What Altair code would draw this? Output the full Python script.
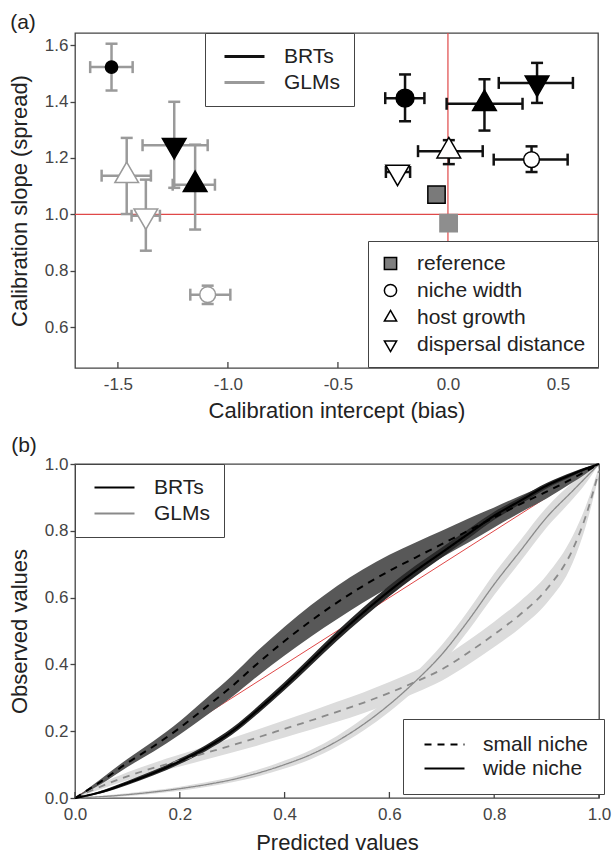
import altair as alt
import pandas as pd

FONT = "Liberation Sans"
RED = "#e04848"
AXC = "#444444"

# ---------------- (a) calibration statistics ----------------
models = ["BRTs", "GLMs"]
a_factors = ["reference", "niche width", "host growth", "dispersal distance"]
a_model = ["GLMs", "GLMs", "GLMs", "GLMs", "GLMs", "GLMs", "GLMs",
           "BRTs", "BRTs", "BRTs", "BRTs", "BRTs", "BRTs", "BRTs"]
a_factor = ["niche width", "dispersal distance", "host growth", "host growth",
            "dispersal distance", "niche width", "reference",
            "niche width", "host growth", "dispersal distance", "host growth",
            "niche width", "dispersal distance", "reference"]
a_level = ["filled", "filled", "filled", "open", "open", "open", "reference",
           "filled", "filled", "filled", "open", "open", "open", "reference"]
a_x = [-1.529, -1.244, -1.149, -1.460, -1.373, -1.092, 0.003,
       -0.195, 0.166, 0.405, 0.004, 0.380, -0.229, -0.052]
a_y = [1.522, 1.245, 1.105, 1.137, 0.995, 0.715, 0.969,
       1.412, 1.392, 1.466, 1.224, 1.194, 1.150, 1.070]
a_xlo = [-1.626, -1.388, -1.251, -1.574, -1.438, -1.171, None,
         -0.285, -0.006, 0.231, -0.136, 0.208, -0.282, None]
a_xhi = [-1.433, -1.092, -1.059, -1.350, -1.309, -0.989, None,
         -0.107, 0.339, 0.568, 0.158, 0.544, -0.172, None]
a_ylo = [1.439, 1.094, 0.946, 1.001, 0.871, 0.682, None,
         1.330, 1.297, 1.395, 1.178, 1.150, None, None]
a_yhi = [1.605, 1.399, 1.247, 1.271, 1.123, 0.747, None,
         1.496, 1.479, 1.537, 1.263, 1.241, None, None]
a_xticks = [-1.5, -1.0, -0.5, 0.0, 0.5]
a_yticks = [0.6, 0.8, 1.0, 1.2, 1.4, 1.6]
a_xdomain = [-1.695, 0.682]
a_ydomain = [0.455, 1.643]

# ---------------- (b) calibration curves ----------------
niches = ["small niche", "wide niche"]
b_x = [0.0, 0.05, 0.1, 0.15, 0.2, 0.25, 0.3, 0.35, 0.4, 0.45, 0.5,
       0.55, 0.6, 0.65, 0.7, 0.75, 0.8, 0.85, 0.9, 0.95, 0.975, 1.0]
brt_small = [0.000, 0.050, 0.105, 0.155, 0.210, 0.272, 0.335, 0.405, 0.470, 0.530, 0.585,
             0.635, 0.680, 0.720, 0.760, 0.800, 0.840, 0.880, 0.917, 0.957, 0.978, 1.000]
brt_small_hw = [0.000, 0.008, 0.012, 0.016, 0.020, 0.026, 0.032, 0.038, 0.043, 0.047, 0.050,
                0.050, 0.048, 0.045, 0.040, 0.036, 0.030, 0.025, 0.020, 0.012, 0.007, 0.000]
brt_wide = [0.000, 0.018, 0.045, 0.075, 0.110, 0.150, 0.200, 0.265, 0.335, 0.410, 0.485,
            0.555, 0.620, 0.680, 0.735, 0.790, 0.845, 0.890, 0.935, 0.970, 0.986, 1.000]
brt_wide_hw = [0.000, 0.004, 0.006, 0.007, 0.008, 0.009, 0.010, 0.011, 0.012, 0.013, 0.014,
               0.015, 0.016, 0.016, 0.015, 0.014, 0.012, 0.010, 0.008, 0.006, 0.004, 0.000]
glm_small = [0.000, 0.035, 0.065, 0.090, 0.112, 0.135, 0.158, 0.182, 0.207, 0.232, 0.258,
             0.285, 0.315, 0.348, 0.385, 0.435, 0.490, 0.550, 0.625, 0.745, 0.845, 0.980]
glm_small_hw = [0.000, 0.008, 0.012, 0.015, 0.018, 0.020, 0.022, 0.024, 0.026, 0.028, 0.030,
                0.031, 0.032, 0.033, 0.034, 0.036, 0.038, 0.040, 0.042, 0.040, 0.030, 0.012]
glm_wide = [0.000, 0.004, 0.010, 0.018, 0.028, 0.040, 0.055, 0.075, 0.100, 0.130, 0.170,
            0.220, 0.280, 0.350, 0.430, 0.530, 0.640, 0.740, 0.840, 0.920, 0.960, 1.000]
glm_wide_hw = [0.000, 0.003, 0.004, 0.005, 0.006, 0.007, 0.008, 0.010, 0.012, 0.014, 0.016,
               0.019, 0.022, 0.025, 0.028, 0.030, 0.032, 0.032, 0.030, 0.025, 0.018, 0.000]
b_ticks = [0.0, 0.2, 0.4, 0.6, 0.8, 1.0]

# ---------------- layout / style constants ----------------
W_A, H_A = 523, 335
W_B, H_B = 524, 334
TRI_UP = "M0,-1.155L1,0.577L-1,0.577Z"
TRI_DOWN = "M0,1.155L1,-0.577L-1,-0.577Z"
LINE_SYM = "M-1,0H9"
HYPHEN = "replace(datum.label, '\u2212', '-')"

# ---------------- tables ----------------
df_a = pd.DataFrame({"model": a_model, "factor": a_factor, "level": a_level,
                     "x": a_x, "y": a_y, "xlo": a_xlo, "xhi": a_xhi,
                     "ylo": a_ylo, "yhi": a_yhi})


def fill_of(m, lv):
    if lv == "filled":
        return "#000000"
    if lv == "open":
        return "#ffffff"
    return "#7a7a7a" if m == "BRTs" else "#8e8e8e"


def stroke_of(m, lv):
    if m == "BRTs" or lv == "filled":
        return "#000000"
    if lv == "open":
        return "#9a9a9a"
    return "#8e8e8e"


def size_of(m, f, lv):
    if f in ("host growth", "dispersal distance"):
        return 560
    if f == "reference":
        return 300
    if lv == "filled":
        return 320 if m == "BRTs" else 150
    return 250


df_a["fillc"] = [fill_of(m, lv) for m, lv in zip(a_model, a_level)]
df_a["strokec"] = [stroke_of(m, lv) for m, lv in zip(a_model, a_level)]
df_a["sz"] = [size_of(m, f, lv) for m, f, lv in zip(a_model, a_factor, a_level)]

ex = df_a.dropna(subset=["xlo"])
ey = df_a.dropna(subset=["ylo"])
capx = pd.concat([ex[["model", "y"]].assign(cx=ex["xlo"]),
                  ex[["model", "y"]].assign(cx=ex["xhi"])])
capy = pd.concat([ey[["model", "x"]].assign(cy=ey["ylo"]),
                  ey[["model", "x"]].assign(cy=ey["yhi"])])

series_defs = [
    ("BRT small", "BRTs", "small niche", brt_small, brt_small_hw),
    ("BRT wide", "BRTs", "wide niche", brt_wide, brt_wide_hw),
    ("GLM small", "GLMs", "small niche", glm_small, glm_small_hw),
    ("GLM wide", "GLMs", "wide niche", glm_wide, glm_wide_hw),
]
rows = []
for name, mdl, nch, vals, hws in series_defs:
    for px, py, hw in zip(b_x, vals, hws):
        rows.append({"series": name, "model": mdl, "niche": nch,
                     "px": px, "py": py, "lo": py - hw, "hi": py + hw})
df_b = pd.DataFrame(rows)

# ---------------- panel (a) ----------------
xs_a = alt.Scale(domain=a_xdomain, zero=False, nice=False)
ys_a = alt.Scale(domain=a_ydomain, zero=False, nice=False)
ax_xa = alt.Axis(values=a_xticks, format=".1f", labelExpr=HYPHEN, ticks=False, tickSize=0,
                 labelPadding=8, labelFlush=False, title="Calibration intercept (bias)",
                 titleY=42, titleBaseline="middle")
ax_ya = alt.Axis(values=a_yticks, format=".1f", tickSize=5, labelPadding=2,
                 title="Calibration slope (spread)", titleX=-56, titleY=H_A / 2,
                 titleAngle=270, titleBaseline="middle", titleAlign="center")


def XA(f):
    return alt.X(f, scale=xs_a, axis=ax_xa)


def YA(f):
    return alt.Y(f, scale=ys_a, axis=ax_ya)


leg_model_a = alt.Legend(title=None, orient="none", legendX=130, legendY=0, padding=13,
                         symbolType=LINE_SYM, symbolSize=64, symbolStrokeWidth=3,
                         labelOffset=45, rowPadding=4)
leg_shape = alt.Legend(title=None, orient="none", legendX=293, legendY=208, padding=12,
                       symbolSize=150, symbolStrokeWidth=1.5, symbolStrokeColor="#000000",
                       symbolFillColor={"expr": "datum.value === 'reference' ? '#7f7f7f' : '#ffffff'"},
                       labelOffset=16, rowPadding=5)
col_a = alt.Color("model:N", scale=alt.Scale(domain=models, range=["#111111", "#9a9a9a"]),
                  legend=leg_model_a)

red_v = alt.Chart(pd.DataFrame({"v": [0.0]})).mark_rule(color=RED, strokeWidth=1.2).encode(
    x=XA("v:Q"))
red_h = alt.Chart(pd.DataFrame({"v": [1.0]})).mark_rule(color=RED, strokeWidth=1.2).encode(
    y=YA("v:Q"))
xbars = alt.Chart(ex).mark_rule(strokeWidth=2.5).encode(
    x=XA("xlo:Q"), x2="xhi:Q", y=YA("y:Q"), color=col_a)
ybars = alt.Chart(ey).mark_rule(strokeWidth=2.5).encode(
    x=XA("x:Q"), y=YA("ylo:Q"), y2="yhi:Q", color=col_a)
xcaps = alt.Chart(capx).mark_tick(orient="vertical", size=12, thickness=2.5, opacity=1).encode(
    x=XA("cx:Q"), y=YA("y:Q"), color=col_a)
ycaps = alt.Chart(capy).mark_tick(orient="horizontal", size=12, thickness=2.5, opacity=1).encode(
    x=XA("x:Q"), y=YA("cy:Q"), color=col_a)
markers = alt.Chart(df_a).mark_point(filled=True, opacity=1, strokeWidth=1.5).encode(
    x=XA("x:Q"), y=YA("y:Q"),
    shape=alt.Shape("factor:N", scale=alt.Scale(domain=a_factors,
                    range=["square", "circle", TRI_UP, TRI_DOWN]), legend=leg_shape),
    fill=alt.Fill("fillc:N", scale=None),
    stroke=alt.Stroke("strokec:N", scale=None),
    size=alt.Size("sz:Q", scale=None))
ticks_a = alt.Chart(pd.DataFrame({"t": a_xticks})).mark_rule(color=AXC, strokeWidth=1.3).encode(
    x=XA("t:Q"), y=alt.value(H_A), y2=alt.value(H_A - 6))
lab_a = alt.Chart(pd.DataFrame({"t": ["(a)"]})).mark_text(
    fontSize=21, color="#222222", font=FONT).encode(
    text="t:N", x=alt.value(-52), y=alt.value(-10))
anchor = alt.Chart(pd.DataFrame({"t": [0]})).mark_rule(strokeOpacity=0, strokeWidth=0.01).encode(
    x=alt.value(-74), x2=alt.value(-73), y=alt.value(-32), y2=alt.value(-32))

top = alt.layer(red_v, red_h, xbars, ybars, xcaps, ycaps, markers, ticks_a, lab_a, anchor
                ).properties(width=W_A, height=H_A)

# ---------------- panel (b) ----------------
xs_b = alt.Scale(domain=[0, 1], zero=False, nice=False)
ys_b = alt.Scale(domain=[0, 1], zero=False, nice=False)
ax_xb = alt.Axis(values=b_ticks, format=".1f", ticks=False, tickSize=0, labelPadding=8,
                 labelFlush=False, title="Predicted values", titleY=44,
                 titleBaseline="middle")
ax_yb = alt.Axis(values=b_ticks, format=".1f", tickSize=5, labelPadding=2,
                 title="Observed values", titleX=-56, titleY=H_B / 2,
                 titleAngle=270, titleBaseline="middle", titleAlign="center")


def XB(f):
    return alt.X(f, scale=xs_b, axis=ax_xb)


def YB(f):
    return alt.Y(f, scale=ys_b, axis=ax_yb)


leg_model_b = alt.Legend(title=None, orient="none", legendX=0, legendY=0, padding=13,
                         symbolType=LINE_SYM, symbolSize=64, symbolStrokeWidth=2.2,
                         labelOffset=45, rowPadding=4)
leg_dash = alt.Legend(title=None, orient="none", legendX=328, legendY=255, padding=15,
                      symbolType=LINE_SYM, symbolSize=64, symbolStrokeWidth=2,
                      symbolStrokeColor="#000000", labelOffset=44, rowPadding=2)
col_b = alt.Color("model:N", scale=alt.Scale(domain=models, range=["#000000", "#8a8a8a"]),
                  legend=leg_model_b)
dash_b = alt.StrokeDash("niche:N", scale=alt.Scale(domain=niches, range=[[7, 6], [1, 0]]),
                        legend=leg_dash)

diag = alt.Chart(pd.DataFrame({"d": [0.0, 1.0]})).mark_line(color=RED, strokeWidth=1).encode(
    x=XB("d:Q"), y=YB("d:Q"))


def band(name, colr):
    return alt.Chart(df_b).transform_filter(alt.datum.series == name).mark_area(
        color=colr, interpolate="monotone").encode(
        x=XB("px:Q"), y=YB("lo:Q"), y2="hi:Q")


def curve(name, w):
    return alt.Chart(df_b).transform_filter(alt.datum.series == name).mark_line(
        strokeWidth=w, interpolate="monotone").encode(
        x=XB("px:Q"), y=YB("py:Q"), color=col_b, strokeDash=dash_b)


ticks_b = alt.Chart(pd.DataFrame({"t": b_ticks})).mark_rule(color=AXC, strokeWidth=1.3).encode(
    x=XB("t:Q"), y=alt.value(H_B), y2=alt.value(H_B - 6))
lab_b = alt.Chart(pd.DataFrame({"t": ["(b)"]})).mark_text(
    fontSize=21, color="#222222", font=FONT).encode(
    text="t:N", x=alt.value(-51), y=alt.value(-18))

bottom = alt.layer(
    diag,
    band("GLM small", "#dcdcdc"), band("GLM wide", "#dcdcdc"),
    band("BRT small", "#585858"), band("BRT wide", "#2a2a2a"),
    curve("GLM small", 1.8), curve("GLM wide", 1.3),
    curve("BRT wide", 2.2), curve("BRT small", 2.0),
    ticks_b, lab_b
).properties(width=W_B, height=H_B)

chart = alt.vconcat(top, bottom, spacing=96, bounds="flush").resolve_scale(
    color="independent", strokeDash="independent", shape="independent",
    fill="independent", stroke="independent", size="independent"
).resolve_legend(
    color="independent", strokeDash="independent", shape="independent"
).properties(
    padding=0
).configure(font=FONT).configure_view(
    stroke=AXC, strokeWidth=1.3
).configure_axis(
    labelFont=FONT, titleFont=FONT, labelFontSize=17, titleFontSize=22,
    labelColor="#444444", titleColor="#222222", titleFontWeight="normal",
    grid=False, domain=False, tickColor=AXC, tickWidth=1.3
).configure_legend(
    labelFont=FONT, labelFontSize=21, labelColor="#222222", strokeColor=AXC,
    fillColor="#ffffff", labelLimit=400
)

chart.save("out.html", embed_options={"renderer": "svg", "actions": False})
